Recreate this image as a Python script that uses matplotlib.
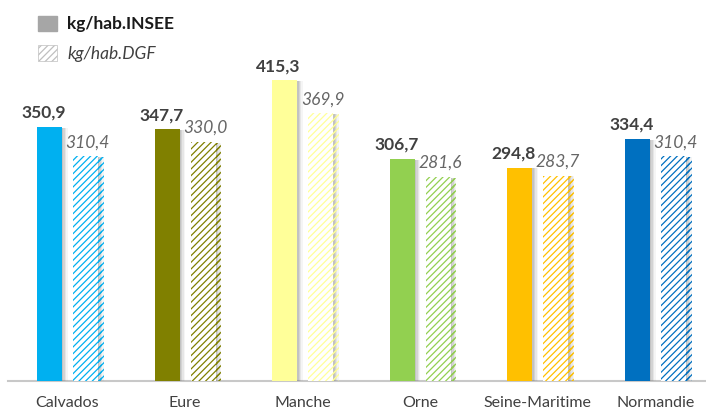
import matplotlib.pyplot as plt
import matplotlib.patheffects as pe
from matplotlib.patches import Patch
import numpy as np

categories = ["Calvados", "Eure", "Manche", "Orne", "Seine-Maritime", "Normandie"]
insee = [350.9, 347.7, 415.3, 306.7, 294.8, 334.4]
dgf = [310.4, 330.0, 369.9, 281.6, 283.7, 310.4]
colors = ["#00B0F0", "#808000", "#FFFF99", "#92D050", "#FFC000", "#0070C0"]

plt.rcParams['font.family'] = ['Lato', 'DejaVu Sans']
plt.rcParams['hatch.linewidth'] = 0.9

fig = plt.figure(figsize=(7.06, 4.15), dpi=100)
ax = fig.add_axes([8 / 706, 34 / 415, 698 / 706, 381 / 415])

pitch = 117.6
x = np.arange(len(categories))
w = 25 / pitch
off = 18 / pitch

shadow = [pe.SimplePatchShadow(offset=(d, -0.5), shadow_rgbFace='#808080', alpha=a)
          for d, a in [(4, 0.08), (3, 0.12), (2, 0.18), (1, 0.2)]] + [pe.Normal()]

b1 = ax.bar(x - off, insee, w, color=colors, linewidth=0, zorder=3)
b2 = ax.bar(x + off, dgf, w, color="white", edgecolor=colors, hatch="/////",
            linewidth=0, zorder=3)
for b in list(b1) + list(b2):
    b.set_path_effects(shadow)

for i in range(len(categories)):
    ax.text(x[i] - off - 6 / pitch, insee[i] + 6 / 0.724, f"{insee[i]:.1f}".replace(".", ","),
            ha="center", va="bottom", fontsize=12.5, fontweight="bold", color="#404040")
    ax.text(x[i] + off + 2 / pitch, dgf[i] + 6 / 0.724, f"{dgf[i]:.1f}".replace(".", ","),
            ha="center", va="bottom", fontsize=12.5, fontstyle="italic", color="#666666")

ax.set_xlim((8 - 67.5) / pitch, (706 - 67.5) / pitch)
ax.set_ylim(0, 381 / 0.724)
ax.set_xticks(x)
ax.set_xticklabels(categories, fontsize=11.5, color="#404040")
ax.tick_params(axis="x", length=0, pad=11)
ax.set_yticks([])
for s in ["top", "left", "right"]:
    ax.spines[s].set_visible(False)
ax.spines["bottom"].set_color("#C8C8C8")
ax.spines["bottom"].set_linewidth(1.5)

handles = [Patch(facecolor="#A6A6A6", edgecolor="#A6A6A6"),
           Patch(facecolor="white", edgecolor="#BFBFBF", hatch="/////", linewidth=0.5)]
leg = ax.legend(handles, ["kg/hab.INSEE", "kg/hab.DGF"], loc="upper left",
                bbox_to_anchor=(14 / 698, 1.0), frameon=False, fontsize=12.5,
                handlelength=1.1, handleheight=1.0, labelspacing=0.75, handletextpad=0.6)
t1, t2 = leg.get_texts()
t1.set_fontweight("bold")
t1.set_color("#1a1a1a")
t2.set_fontstyle("italic")
t2.set_color("#404040")

fig.savefig("out.png", dpi=100)
